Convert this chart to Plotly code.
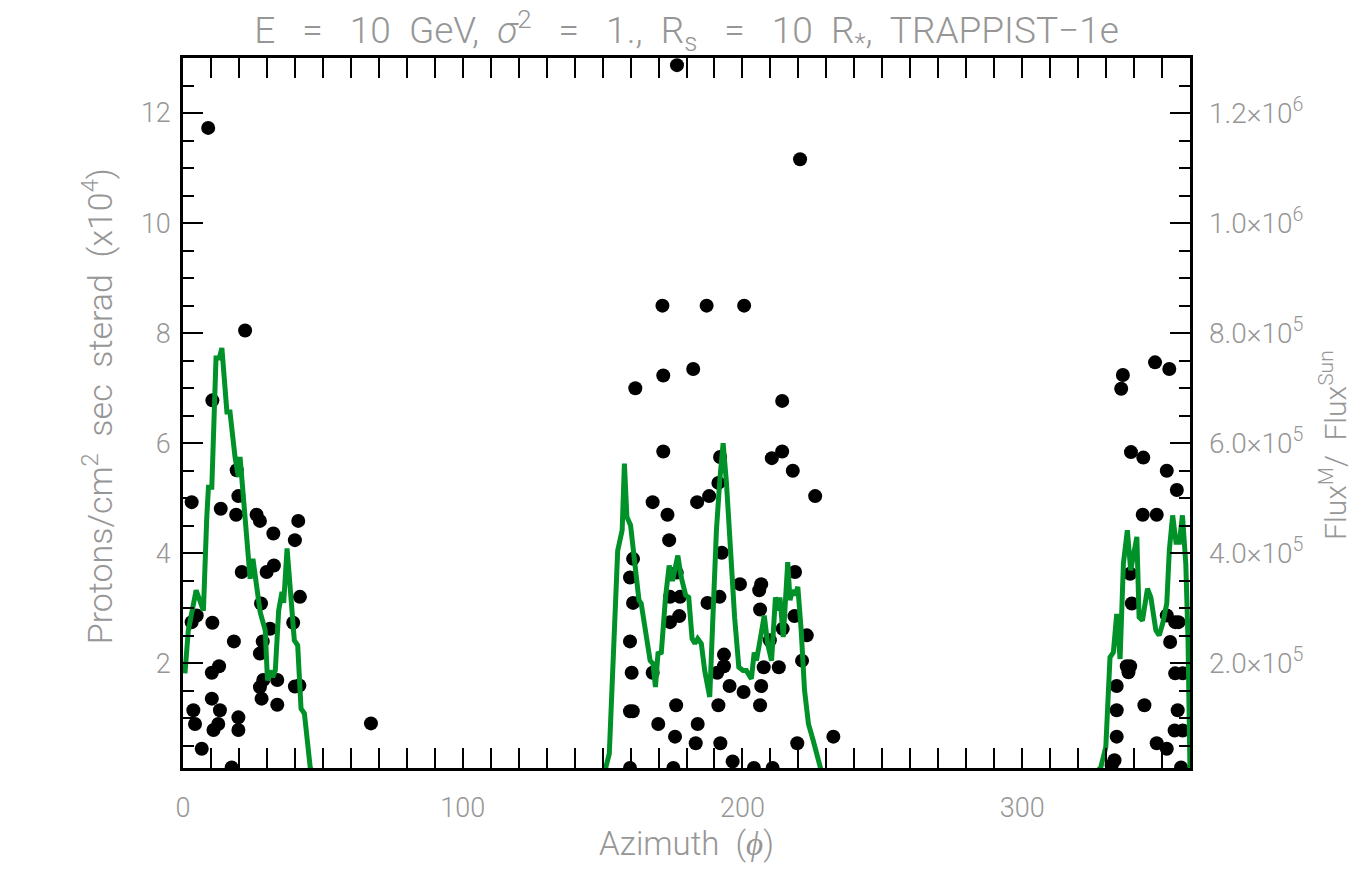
import plotly.graph_objects as go

# ---------------- data ----------------
# scatter points (azimuth deg, protons x1e4)
pts_phi = [
    9.0, 22.2, 10.5,
    3.1, 13.5, 19.2, 19.8, 19.0, 26.3, 27.5, 32.3, 41.2, 40.0, 21.0, 29.9, 32.5, 41.8, 27.9,
    3.1, 4.9, 10.5, 31.1, 39.4, 18.2, 28.5, 27.5, 12.9, 10.3, 28.7, 27.5, 33.7, 40.0, 41.6,
    10.3, 28.1, 33.7, 3.7, 13.2, 4.3, 12.6, 10.9, 19.8, 19.8, 6.7, 17.4,
    67.2,
    176.6, 220.6,
    171.4, 187.2, 200.6, 161.7, 171.7, 182.4, 214.2, 171.7, 192.0, 210.5, 214.2, 218.0,
    191.4, 167.9, 183.8, 188.1, 226.0, 173.2, 173.8, 160.9, 192.6, 159.8, 176.5, 218.8,
    160.9, 174.1, 177.7, 187.5, 191.8, 199.1, 206.7, 206.0, 206.3, 174.1, 177.4, 218.6,
    214.4, 223.0, 209.8, 159.8, 221.3, 160.4, 167.9, 191.0, 193.4, 193.4, 207.6, 213.0,
    195.4, 200.4, 206.7, 159.8, 160.8, 176.3, 191.4, 206.3, 169.9, 184.0, 175.9, 183.3,
    192.1, 219.6, 232.5, 196.5, 159.8, 175.3, 204.1, 210.8,
    336.0, 335.4, 347.5, 352.6, 338.9, 343.3, 351.7, 355.3, 343.1, 348.1, 338.6, 339.2,
    351.7, 354.7, 355.9, 352.9, 337.4, 338.6, 338.0, 354.7, 357.4, 333.8, 333.8, 343.7,
    355.6, 354.5, 357.4, 333.8, 348.1, 351.7, 333.0, 332.0, 356.8,
]
pts_val = [
    11.73, 8.05, 6.78,
    4.93, 4.81, 5.51, 5.04, 4.70, 4.70, 4.59, 4.36, 4.59, 4.24, 3.66, 3.66, 3.78, 3.21, 3.09,
    2.75, 2.87, 2.74, 2.63, 2.74, 2.40, 2.40, 2.18, 1.95, 1.83, 1.70, 1.57, 1.70, 1.58, 1.60,
    1.36, 1.36, 1.25, 1.15, 1.15, 0.90, 0.90, 0.79, 1.02, 0.79, 0.45, 0.11,
    0.91,
    12.87, 11.16,
    8.50, 8.50, 8.50, 7.00, 7.23, 7.35, 6.77, 5.85, 5.75, 5.73, 5.85, 5.50,
    5.28, 4.93, 4.93, 5.04, 5.04, 4.70, 4.24, 3.90, 4.01, 3.56, 3.65, 3.66,
    3.10, 3.21, 3.21, 3.10, 3.21, 3.44, 3.44, 3.33, 2.98, 2.75, 2.86, 2.86,
    2.63, 2.51, 2.42, 2.40, 2.05, 1.83, 1.83, 1.83, 1.95, 2.16, 1.93, 1.93,
    1.59, 1.48, 1.59, 1.13, 1.13, 1.24, 1.24, 1.24, 0.90, 0.90, 0.67, 0.55,
    0.55, 0.55, 0.67, 0.22, 0.10, 0.10, 0.10, 0.10,
    7.24, 6.99, 7.47, 7.35, 5.84, 5.74, 5.50, 5.15, 4.70, 4.70, 3.63, 3.09,
    2.87, 2.75, 2.75, 2.39, 1.95, 1.95, 1.84, 1.82, 1.82, 1.59, 1.15, 1.24,
    1.15, 0.78, 0.78, 0.67, 0.55, 0.45, 0.24, 0.15, 0.11,
]

# green curve: flux ratio (x1e5) vs azimuth
line_phi = [
    0.7, 1.9, 4.7, 7.3, 8.5, 9.1, 10.3, 11.8, 13.0, 13.9, 15.7, 16.8, 18.6, 19.8, 20.4,
    24.0, 25.0, 27.6, 29.4, 30.2, 31.2, 32.1, 33.0, 34.2, 35.4, 36.0, 37.2, 38.4, 39.8,
    41.0, 42.2, 43.4, 45.5, 47.0,
    149.0, 151.0, 152.4, 155.4, 157.0, 157.8, 158.7, 160.0, 161.0, 163.0, 163.8, 165.6,
    167.0, 168.0, 168.9, 169.8, 171.0, 172.5, 173.8, 175.0, 176.9, 178.1, 179.7, 180.8,
    182.0, 183.0, 184.0, 185.3, 186.5, 188.3, 190.7, 191.9, 193.1, 194.3, 195.8, 197.2,
    198.7, 200.2, 201.4, 202.2, 203.2, 204.2, 205.0, 206.5, 207.8, 209.0, 210.4, 211.8,
    212.8, 213.4, 214.6, 216.2, 217.0, 217.9, 218.8, 219.8, 221.0, 222.2, 223.6, 225.3,
    226.9, 228.0, 229.0,
    326.0, 328.1, 329.9, 331.4, 332.6, 333.8, 335.0, 336.2, 337.6, 338.8, 341.0, 341.8,
    343.0, 344.8, 346.0, 347.8, 349.0, 350.2, 351.7, 352.6, 353.8, 355.0, 356.2, 357.3,
    358.5, 359.3, 360.0,
]
line_val = [
    1.82, 2.60, 3.33, 2.96, 4.66, 5.20, 5.20, 7.55, 7.55, 7.73, 6.57, 6.57, 5.75, 5.39, 5.75,
    3.54, 3.90, 2.93, 2.60, 1.69, 1.87, 1.75, 1.87, 2.96, 3.30, 3.10, 4.09, 3.27, 2.42,
    2.33, 1.18, 1.09, 0.10, 0.0,
    0.0, 0.08, 0.36, 4.05, 4.42, 5.63, 4.66, 4.51, 4.11, 3.15, 3.09, 2.42,
    2.05, 2.00, 1.57, 2.18, 2.20, 3.20, 3.78, 3.50, 3.96, 3.57, 3.24, 3.20,
    2.45, 2.36, 2.45, 2.36, 1.87, 1.39, 4.42, 5.33, 6.00, 5.27, 3.81, 2.84,
    1.93, 1.87, 1.87, 1.78, 1.72, 2.20, 2.05, 2.48, 2.87, 2.36, 2.05, 3.20,
    2.96, 3.20, 2.48, 3.84, 3.15, 3.33, 3.24, 3.39, 2.60, 1.51, 0.90, 0.60,
    0.33, 0.08, 0.0,
    0.0, 0.11, 0.48, 2.11, 2.20, 2.90, 2.08, 3.82, 4.42, 3.69, 4.30, 2.84,
    2.78, 3.36, 3.20, 2.60, 2.51, 2.72, 3.09, 4.05, 4.69, 4.20, 4.20, 4.69,
    3.81, 2.42, 0.05,
]
line_scale = 1e5

left_ticks = [2, 4, 6, 8, 10, 12]
right_ticks = [2e5, 4e5, 6e5, 8e5, 1.0e6, 1.2e6]
right_ticktext = ["2.0×10<sup>5</sup>", "4.0×10<sup>5</sup>", "6.0×10<sup>5</sup>",
                  "8.0×10<sup>5</sup>", "1.0×10<sup>6</sup>", "1.2×10<sup>6</sup>"]
x_ticks = [0, 100, 200, 300]

y_range = [0.1, 13.0]
x_range = [0, 360]

FONT = "Roboto"
GRAY = "#969696"
W = 300

fig = go.Figure()
fig.add_trace(go.Scatter(
    x=line_phi, y=[v * line_scale for v in line_val], mode="lines",
    line=dict(color="rgb(0,145,40)", width=5), yaxis="y2", showlegend=False,
))
fig.add_trace(go.Scatter(
    x=pts_phi, y=pts_val, mode="markers",
    marker=dict(color="black", size=14), showlegend=False, cliponaxis=True,
))

axis_common = dict(
    showline=True, linecolor="black", linewidth=2.5, ticks="inside",
    tickcolor="black", tickwidth=2, showgrid=False, zeroline=False,
    tickfont=dict(family=FONT, size=27, color=GRAY, weight=W),
)

fig.update_layout(
    width=1357, height=886,
    margin=dict(l=183, r=167, t=58, b=118),
    paper_bgcolor="white", plot_bgcolor="white",
    title=dict(
        text="E   =   10  GeV,  <i>σ</i><sup>2</sup>   =   1.,  R<sub>s</sub>   =   10  R<sub>*</sub>,  TRAPPIST−1e",
        x=0.5, xref="paper", y=0.966, yanchor="middle",
        font=dict(family=FONT, size=37, color=GRAY, weight=W),
    ),
    xaxis=dict(
        range=x_range, tickvals=x_ticks, ticklen=20, mirror="allticks",
        minor=dict(dtick=10, ticklen=11, ticks="inside", tickcolor="black", tickwidth=2),
        ticklabelstandoff=14,
        **axis_common,
    ),
    yaxis=dict(
        range=y_range, tickvals=left_ticks, ticklen=20, mirror="allticks",
        minor=dict(dtick=0.5, tick0=0, ticklen=11, ticks="inside", tickcolor="black", tickwidth=2),
        ticklabelstandoff=4,
        **axis_common,
    ),
    yaxis2=dict(
        range=[y_range[0] * line_scale, y_range[1] * line_scale], overlaying="y", side="right",
        tickvals=right_ticks, ticktext=right_ticktext, showline=False, ticks="",
        showgrid=False, zeroline=False, ticklabelstandoff=18,
        tickfont=dict(family=FONT, size=28, color=GRAY, weight=W),
    ),
    annotations=[
        dict(text="Protons/cm<sup>2</sup>  sec  sterad  (x10<sup>4</sup>)", textangle=-90,
             xref="paper", yref="paper", x=-0.085, y=0.51, xanchor="center", yanchor="middle",
             showarrow=False, font=dict(family=FONT, size=34, color=GRAY, weight=W)),
        dict(text="Flux<sup>M</sup>/  Flux<sup>Sun</sup>", textangle=-90,
             xref="paper", yref="paper", x=1.143, y=0.455, xanchor="center", yanchor="middle",
             showarrow=False, font=dict(family=FONT, size=30, color=GRAY, weight=W)),
        dict(text="Azimuth  (<i>ϕ</i>)", xref="paper", yref="paper", x=0.5, y=-0.106,
             xanchor="center", yanchor="middle",
             showarrow=False, font=dict(family=FONT, size=33, color=GRAY, weight=W)),
    ],
)

fig.write_html("out.html")
